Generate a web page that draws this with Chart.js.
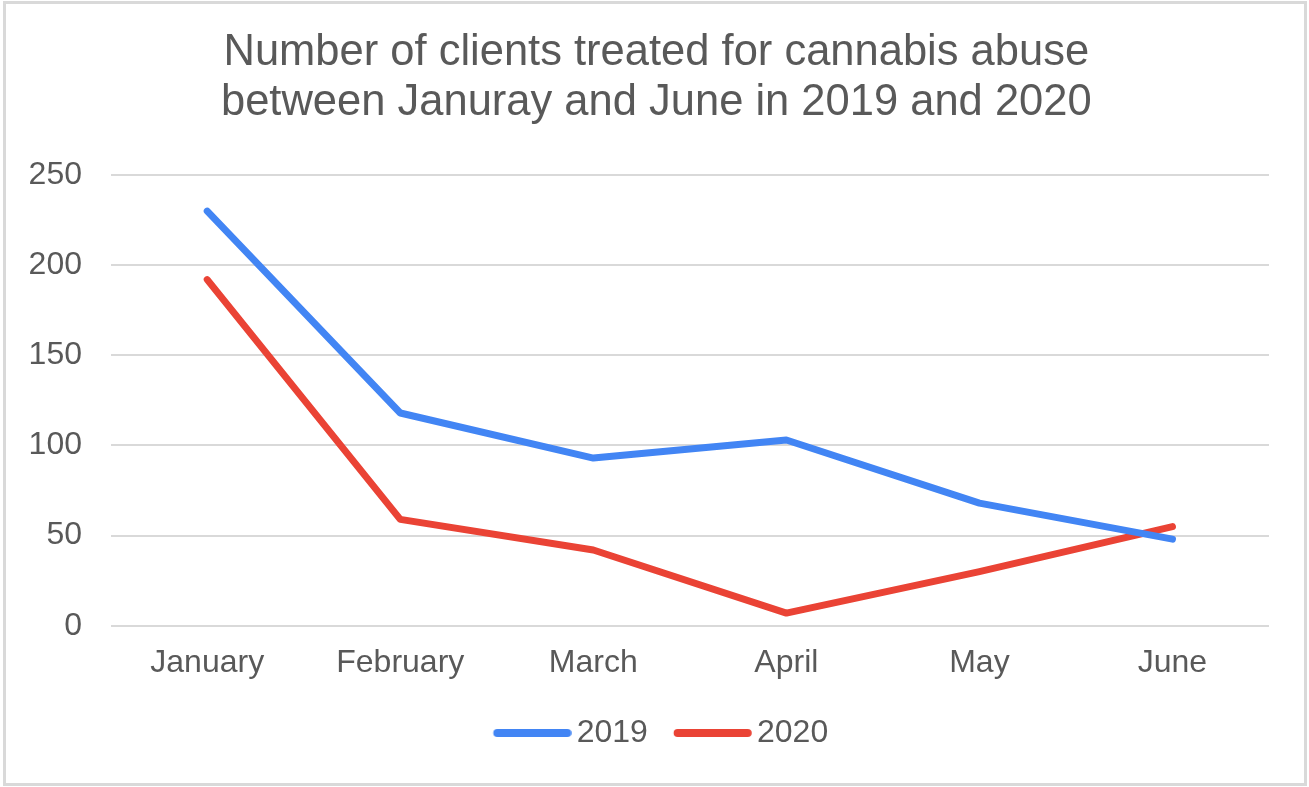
<!DOCTYPE html>
<html>
<head>
<meta charset="utf-8">
<script src="https://cdn.jsdelivr.net/npm/chart.js@4/dist/chart.umd.min.js"></script>
<style>
  html, body { margin: 0; padding: 0; background: #ffffff; }
  #wrap { position: relative; width: 1309px; height: 787px; }
  #frame { position: absolute; left: 3px; top: 1px; width: 1304px; height: 785px; box-sizing: border-box; border: 3px solid #d9d9d9; pointer-events: none; }
</style>
</head>
<body>
<div id="wrap">
  <canvas id="c"></canvas>
  <div id="frame"></div>
</div>
<script>
// ---- data ----
const titleLines = ["Number of clients treated for cannabis abuse", "between Januray and June in 2019 and 2020"];
const categories = ["January", "February", "March", "April", "May", "June"];
const seriesNames = ["2019", "2020"];
const values2019 = [230, 118, 93, 103, 68, 48];
const values2020 = [192, 59, 42, 7, 30, 55];
const yTicks = [0, 50, 100, 150, 200, 250];

// ---- styles ----
const FONT = "'Liberation Sans', Arial, sans-serif";
const TEXT = "#595959";
const BLUE = "#4285F4";
const RED = "#EA4335";
const GRID = "#d9d9d9";

// legend swatch: a thick rounded line drawn on a small canvas
function legendSwatch(color) {
  const c = document.createElement('canvas');
  c.width = 98; c.height = 12;
  const g = c.getContext('2d');
  g.strokeStyle = color;
  g.lineWidth = 8;
  g.lineCap = 'round';
  g.beginPath();
  g.moveTo(23.75, 6);
  g.lineTo(93.75, 6);
  g.stroke();
  return c;
}

const ctx = document.getElementById('c').getContext('2d');
new Chart(ctx, {
  type: 'line',
  data: {
    labels: categories,
    datasets: [
      { label: seriesNames[0], data: values2019, borderColor: BLUE, backgroundColor: BLUE,
        borderWidth: 7, tension: 0, pointRadius: 0, pointHoverRadius: 0,
        borderJoinStyle: 'round', borderCapStyle: 'round', pointStyle: legendSwatch(BLUE) },
      { label: seriesNames[1], data: values2020, borderColor: RED, backgroundColor: RED,
        borderWidth: 7, tension: 0, pointRadius: 0, pointHoverRadius: 0,
        borderJoinStyle: 'round', borderCapStyle: 'round', pointStyle: legendSwatch(RED) }
    ]
  },
  options: {
    responsive: true,
    maintainAspectRatio: false,
    animation: false,
    layout: { padding: { left: 27.5, right: 23.9, top: 0, bottom: 28 } },
    plugins: {
      title: {
        display: true,
        text: titleLines,
        color: TEXT,
        font: { family: FONT, size: 43.5, weight: 'normal', lineHeight: 1.15 },
        padding: { top: 27.9, bottom: 47.1 }
      },
      legend: {
        display: true,
        position: 'bottom',
        labels: {
          usePointStyle: true,
          pointStyleWidth: 76.3,
          padding: 16.8,
          color: TEXT,
          font: { family: FONT, size: 32 }
        }
      },
      tooltip: { enabled: false }
    },
    scales: {
      x: {
        offset: true,
        afterFit: (scale) => { scale.height = 74.5; },
        grid: { display: false, drawTicks: false },
        border: { display: false },
        ticks: { color: TEXT, font: { family: FONT, size: 32 }, padding: 18, maxRotation: 0 }
      },
      y: {
        min: yTicks[0],
        max: yTicks[yTicks.length - 1],
        afterFit: (scale) => { scale.width = 83.2; },
        grid: { color: GRID, lineWidth: 2, drawTicks: false },
        border: { display: false },
        ticks: { color: TEXT, font: { family: FONT, size: 32 }, padding: 28.7, stepSize: yTicks[1] - yTicks[0] }
      },
      yRightSpacer: {
        type: 'linear',
        position: 'right',
        display: true,
        afterFit: (scale) => { scale.width = 16.1; },
        grid: { display: false, drawTicks: false },
        border: { display: false },
        ticks: { display: false }
      }
    }
  }
});
</script>
</body>
</html>
